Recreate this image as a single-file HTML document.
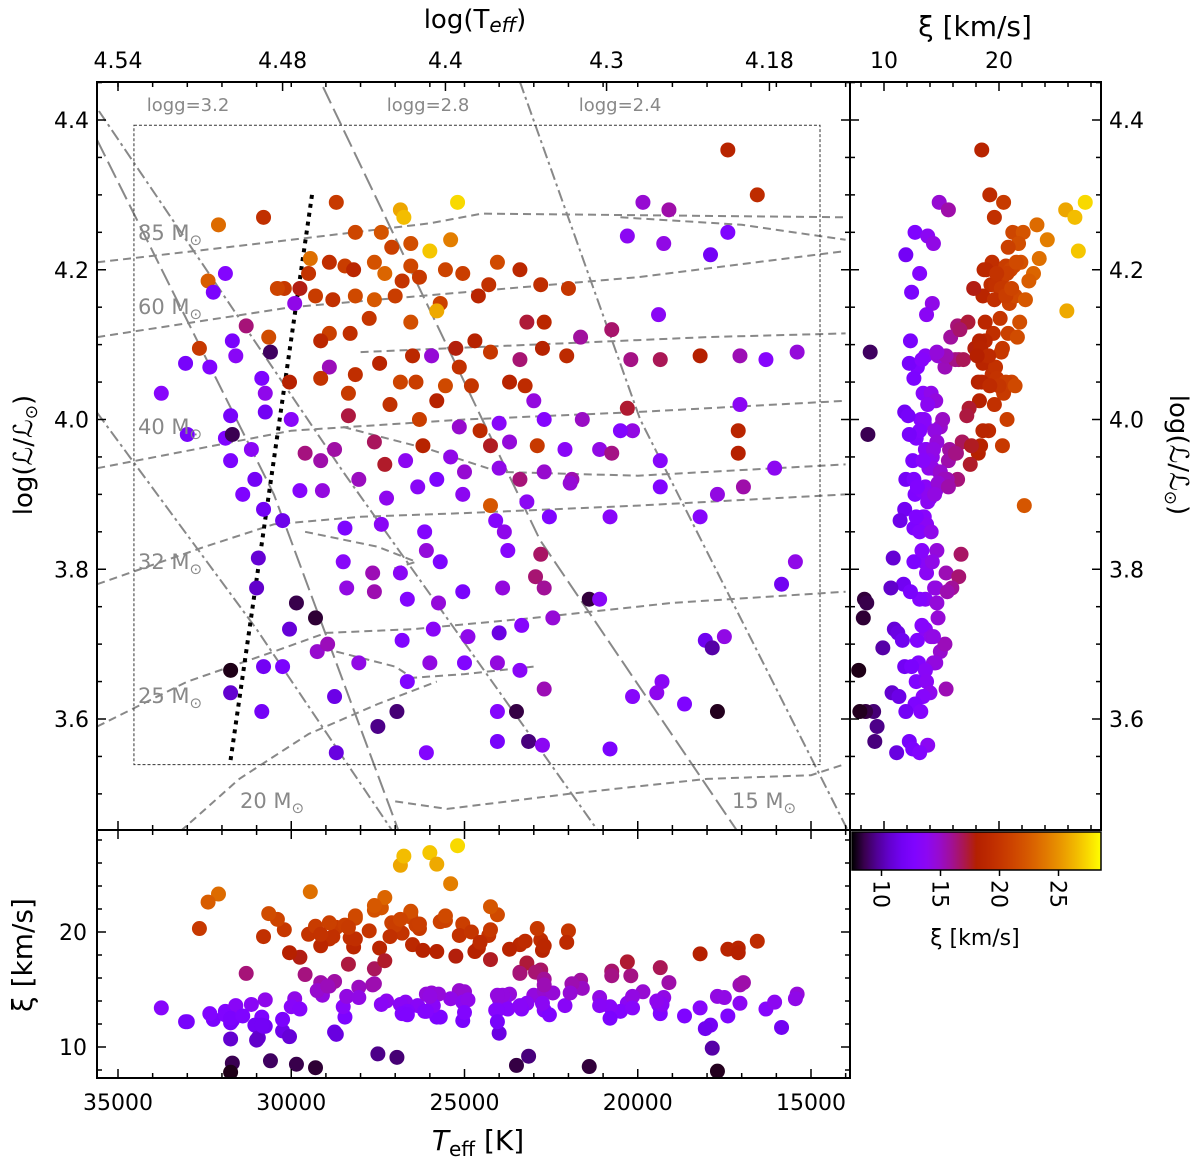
<!DOCTYPE html>
<html><head><meta charset="utf-8"><style>
body{margin:0;background:#fff;}
svg{display:block;font-family:"DejaVu Sans","Liberation Sans",sans-serif;}
</style></head><body>
<svg id="fig" width="1200" height="1161" viewBox="0 0 1200 1161" xmlns="http://www.w3.org/2000/svg">
<g id="main"></g>
<g id="right"></g>
<g id="bottom"></g>
<g id="cbar"></g>
<g id="text"></g>
</svg>
<script>
// ---- data: [Teff K], log L, xi km/s ----
const teff=[17400,16550,19850,25200,26850,26750,28700,32100,30800,19100,17400,20300,19250,17900,28150,27400,26550,27100,25400,26550,26000,28900,28450,28200,27600,27300,26800,26300,25550,25050,24050,23400,22800,22000,24300,24600,25700,25800,29750,30200,29450,29500,29300,28800,28150,27600,27000,26550,27750,28300,28900,29150,29900,30400,32400,32250,31900,32650,30650,30600,31300,31700,31600,32350,33050,33750,30850,30750,30750,30050,28900,28150,27450,26500,25950,25250,24700,24250,25150,23400,22750,22050,23200,22700,21650,20750,20200,19350,18200,17050,16300,15400,19400,29150,28350,26850,26400,25550,24800,23700,23250,27150,25800,26300,24550,25150,24000,23000,22700,21600,20300,17050,17100,20150,17100,16050,31750,31900,31700,31750,31150,31050,30000,28350,29600,28750,27600,26200,25400,24250,23700,22900,22100,21100,20500,29150,27300,26700,25000,24000,23400,22700,21900,20750,19350,31400,30800,29750,29100,28050,27250,26350,25800,25050,24250,24100,23200,21950,20800,19350,18200,17700,16950,30250,28450,27400,26150,23850,22550,26100,22800,30950,28500,27650,26850,25700,23750,22950,23900,22700,21400,21100,15450,15850,31000,29850,29300,28400,27600,26650,25750,25050,30050,29250,28950,28050,26800,25900,24900,24000,23350,22450,26000,25000,24050,23400,22700,26650,18050,17850,17500,19300,19450,20150,18650,30800,30250,31750,31750,30850,28750,26950,27500,24050,23500,24050,23150,22750,20800,17700,26100,28700,33000];
const logL=[4.36,4.30,4.29,4.29,4.28,4.27,4.29,4.26,4.27,4.28,4.25,4.245,4.235,4.22,4.25,4.25,4.235,4.23,4.24,4.205,4.225,4.21,4.205,4.20,4.21,4.195,4.185,4.19,4.20,4.195,4.21,4.20,4.18,4.175,4.18,4.165,4.155,4.145,4.175,4.175,4.215,4.195,4.165,4.16,4.165,4.16,4.165,4.13,4.135,4.115,4.115,4.105,4.155,4.175,4.185,4.17,4.195,4.095,4.11,4.09,4.125,4.105,4.085,4.07,4.075,4.035,4.055,4.035,4.01,4.05,4.07,4.06,4.075,4.085,4.085,4.095,4.105,4.09,4.07,4.08,4.095,4.085,4.13,4.13,4.11,4.12,4.08,4.08,4.085,4.085,4.08,4.09,4.14,4.055,4.035,4.05,4.05,4.045,4.045,4.05,4.045,4.02,4.025,4.00,3.985,3.99,3.995,4.025,4.00,4.00,4.015,4.02,3.985,3.985,3.955,3.935,4.005,3.975,3.98,3.945,3.96,3.92,4.00,4.005,3.955,3.96,3.97,3.965,3.95,3.965,3.97,3.965,3.96,3.96,3.985,3.945,3.94,3.945,3.93,3.935,3.92,3.93,3.92,3.955,3.945,3.90,3.88,3.905,3.905,3.92,3.895,3.91,3.92,3.90,3.885,3.865,3.89,3.915,3.87,3.91,3.87,3.90,3.91,3.865,3.855,3.86,3.85,3.85,3.87,3.825,3.82,3.815,3.81,3.795,3.795,3.81,3.825,3.79,3.775,3.775,3.76,3.76,3.81,3.78,3.775,3.755,3.735,3.775,3.77,3.76,3.755,3.77,3.72,3.69,3.70,3.675,3.705,3.72,3.71,3.715,3.725,3.735,3.675,3.675,3.675,3.665,3.64,3.65,3.705,3.695,3.71,3.65,3.635,3.63,3.62,3.67,3.67,3.665,3.635,3.61,3.63,3.61,3.59,3.61,3.61,3.57,3.57,3.565,3.56,3.61,3.555,3.555,3.98];
const xi=[18.5,19.2,14.8,27.5,25.8,26.6,20.4,23.3,19.6,15.6,12.7,13.8,14.3,11.9,21.2,22.1,21.7,20.8,24.2,21.3,26.9,19.4,20.6,18.7,21.9,23.0,19.9,20.3,21.0,20.7,21.5,18.9,19.3,20.1,19.7,18.6,20.9,25.9,17.8,20.2,23.5,19.8,20.5,19.6,21.4,22.3,20.6,21.8,20.1,19.5,20.8,18.8,14.2,21.1,22.6,12.4,13.1,20.3,21.6,8.8,16.4,12.3,13.6,12.9,12.2,13.4,12.6,14.1,11.8,18.2,15.3,19.4,18.6,18.9,14.7,17.9,18.3,20.2,19.7,16.5,18.4,19.1,17.3,18.8,15.8,16.6,16.2,16.9,18.1,15.4,13.3,14.6,13.7,19.8,20.4,21.1,20.6,21.4,20.0,18.5,19.2,19.6,18.3,20.7,19.1,14.9,13.5,14.5,13.2,15.1,17.4,13.8,18.6,14.4,18.2,13.9,12.1,12.8,8.6,12.5,13.7,11.9,13.5,17.2,16.3,15.7,16.8,18.4,14.2,17.6,14.6,20.3,13.6,14.3,13.1,15.6,17.5,13.9,14.8,14.2,16.4,14.9,15.5,16.2,13.4,12.7,11.8,13.3,14.5,15.2,14.0,13.6,12.6,13.9,22.2,13.2,13.8,14.7,13.5,12.9,13.4,14.4,15.6,11.4,12.6,13.7,13.1,14.1,12.8,14.6,16.7,10.8,13.5,15.4,13.7,12.6,13.3,16.5,14.5,15.9,8.3,13.6,14.2,11.7,10.6,8.5,8.2,14.4,15.5,13.1,14.6,12.3,10.9,14.9,15.3,14.3,12.9,13.6,14.1,11.2,13.3,14.7,14.4,13.0,14.5,13.6,15.4,12.8,11.6,9.9,14.3,13.7,14.0,13.4,12.7,11.8,12.4,7.8,10.7,11.9,11.3,9.1,9.4,13.2,8.4,12.2,9.2,13.8,12.5,7.9,13.1,11.1,12.2];
// guide lines (data coordinates)
const tracks=[
 {name:"85",pts:[[35600,4.21],[30000,4.24],[26000,4.262],[24500,4.275],[14000,4.27]]},
 {name:"85b",pts:[[20500,4.27],[17000,4.26],[14000,4.24]]},
 {name:"60",pts:[[35600,4.11],[30000,4.15],[25000,4.17],[20000,4.19],[14000,4.225]]},
 {name:"60b",pts:[[28000,4.09],[23000,4.10],[18000,4.11],[14000,4.115]]},
 {name:"40",pts:[[35600,3.935],[30000,3.985],[25000,4.0],[20000,4.01],[14000,4.025]]},
 {name:"40b",pts:[[28500,3.99],[26000,3.96],[24000,3.93],[20000,3.925],[14000,3.94]]},
 {name:"32",pts:[[35600,3.78],[32500,3.83],[30500,3.86],[28000,3.87],[25000,3.875],[20000,3.885],[14000,3.9]]},
 {name:"32b",pts:[[29600,3.85],[27500,3.83],[26400,3.81],[27100,3.80]]},
 {name:"25",pts:[[35600,3.59],[33000,3.65],[30500,3.69],[29000,3.715],[26500,3.72],[23000,3.735],[19000,3.755],[14000,3.77]]},
 {name:"25b",pts:[[28700,3.69],[27000,3.67],[26500,3.655],[25000,3.66],[23000,3.67]]},
 {name:"20",pts:[[33200,3.45],[31500,3.52],[29500,3.58],[27500,3.62],[25800,3.65]]},
 {name:"15",pts:[[27000,3.49],[25500,3.48],[22000,3.50],[18000,3.52],[15000,3.525],[14000,3.54]]}
];
const loggLines=[
 {style:"dd",pts:[[35550,4.412],[28500,3.93],[21060,3.445]]},
 {style:"dd",pts:[[35600,4.009],[31000,3.72],[27000,3.445]]},
 {style:"dd",pts:[[23400,4.451],[19930,4.0],[13870,3.445]]},
 {style:"ld",pts:[[29080,4.444],[22820,3.839],[17050,3.445]]},
 {style:"ld",pts:[[35600,4.373],[30500,3.9],[26860,3.445]]}
];
const boundary=[[29400,4.30],[31770,3.539]];
const box=[[34540,4.393],[14740,3.539]];
const xTicks=[35000,30000,25000,20000,15000];
const yTicks=[3.6,3.8,4.0,4.2,4.4];
const topTickLabels=["4.54","4.48","4.4","4.3","4.18"];
const topTickTeff=[35000,30250,25550,20900,16200];
const xiTicksRight=[10,20];
const xiTicksBottom=[10,20];
const cbTicks=[10,15,20,25];

const NS="http://www.w3.org/2000/svg";
const X0=97,X1=850,Y0=82,Y1=830,RX1=1101,BY1=1078;
const tx=t=>118+(35000-t)*0.03465;
const ly=l=>120+(4.4-l)*748.75;
const xr=v=>884+(v-10)*11.5;
const yb=v=>1047-(v-10)*11.5;
const VMIN=7.5,VMAX=28.6;
const cbx=v=>852+(v-VMIN)/(VMAX-VMIN)*249;
function cmap(v){let t=Math.max(0,Math.min(1,(v-VMIN)/(VMAX-VMIN)));
 const r=Math.sqrt(t),g=t*t*t,b=Math.max(0,Math.sin(2*Math.PI*t));
 return `rgb(${Math.round(r*255)},${Math.round(g*255)},${Math.round(b*255)})`;}
function el(parent,tag,attrs){const e=document.createElementNS(NS,tag);for(const k in attrs)e.setAttribute(k,attrs[k]);parent.appendChild(e);return e;}
const main=document.getElementById('main'),right=document.getElementById('right'),bottom=document.getElementById('bottom'),cbar=document.getElementById('cbar'),text=document.getElementById('text');

const defs=el(document.getElementById('fig'),'defs',{});
const cp=el(defs,'clipPath',{id:'cm'});el(cp,'rect',{x:X0,y:Y0,width:X1-X0,height:Y1-Y0});
const cpr=el(defs,'clipPath',{id:'cr'});el(cpr,'rect',{x:X1,y:Y0,width:RX1-X1,height:Y1-Y0});
const cpb=el(defs,'clipPath',{id:'cb'});el(cpb,'rect',{x:X0,y:Y1,width:X1-X0,height:BY1-Y1});
const gm=el(main,'g',{'clip-path':'url(#cm)'});

function poly(parent,pts,attrs,name){const d=pts.map((p,i)=>(i?'L':'M')+tx(p[0]).toFixed(1)+','+ly(p[1]).toFixed(1)).join(' ');
 const p=el(parent,'path',Object.assign({d:d,fill:'none'},attrs));
 
 }
loggLines.forEach(L=>poly(gm,L.pts,{stroke:'#888','stroke-width':2,'stroke-dasharray':L.style==='dd'?'12,4,3,4':'18,6'},'logg-line'));
tracks.forEach(T=>poly(gm,T.pts,{stroke:'#888','stroke-width':2,'stroke-dasharray':'8,5'},'mass-track'));
const bx=el(gm,'rect',{x:tx(box[0][0]),y:ly(box[0][1]),width:tx(box[1][0])-tx(box[0][0]),height:ly(box[1][1])-ly(box[0][1]),fill:'none',stroke:'#333','stroke-width':1,'stroke-dasharray':'3,2'});


poly(gm,boundary,{stroke:'#000','stroke-width':4,'stroke-dasharray':'4,5'},'boundary-line');

const N=Math.min(teff.length,logL.length,xi.length);
for(let i=0;i<N;i++){
 const c=cmap(xi[i]);
 const a=el(gm,'circle',{cx:tx(teff[i]),cy:ly(logL[i]),r:7.5,fill:c});
 
 
 const b=el(right,'circle',{cx:xr(xi[i]),cy:ly(logL[i]),r:7.5,fill:c,'clip-path':'url(#cr)'});
 
 
 const d=el(bottom,'circle',{cx:tx(teff[i]),cy:yb(xi[i]),r:7.5,fill:c,'clip-path':'url(#cb)'});
 
 
}
function frame(x,y,w,h,name){const r=el(text,'rect',{x:x,y:y,width:w,height:h,fill:'none',stroke:'#000','stroke-width':2});
 
 }
frame(X0,Y0,X1-X0,Y1-Y0,'hr-frame');frame(X1,Y0,RX1-X1,Y1-Y0,'right-frame');frame(X0,Y1,X1-X0,BY1-Y1,'bottom-frame');
function tick(x1,y1,x2,y2){el(text,'line',{x1:x1,y1:y1,x2:x2,y2:y2,stroke:'#000','stroke-width':1.5});}
function label(x,y,s,size,anchor,extra){const t=el(text,'text',Object.assign({x:x,y:y,'font-size':size,'text-anchor':anchor||'middle',fill:'#000'},extra||{}));t.textContent=s;
 
 return t;}
for(let v=3.45;v<=4.45;v+=0.05){const y=ly(v);if(y<Y0||y>Y1)continue;const maj=Math.abs((v*10)%2)<0.01||Math.abs((v*10)%2-2)<0.01;const L=maj?9:5;
 tick(X0,y,X0+L,y);tick(X1,y,X1-L,y);tick(X1,y,X1+L,y);tick(RX1,y,RX1-L,y);}
yTicks.forEach(v=>{label(X0-8,ly(v)+8,v.toFixed(1),22,'end');label(RX1+8,ly(v)+8,v.toFixed(1),22,'start');});
for(let t=14000;t<=35000;t+=1000){const x=tx(t);if(x<X0||x>X1)continue;const L=t%5000===0?9:5;tick(x,BY1,x,BY1-L);tick(x,Y1,x,Y1+L);tick(x,Y1,x,Y1-L);}
xTicks.forEach(t=>label(tx(t),1110,String(t),22));
for(let t=14000;t<=35000;t+=1000){const x=tx(t);if(x<X0||x>X1)continue;tick(x,Y0,x,Y0+5);}
topTickTeff.forEach((t,i)=>{tick(tx(t),Y0,tx(t),Y0+9);label(tx(t),68,topTickLabels[i],22);});
for(let v=8;v<=28;v+=2){const x=xr(v);const L=v%10===0?9:5;tick(x,Y0,x,Y0+L);tick(x,Y1,x,Y1-L);}
xiTicksRight.forEach(v=>label(xr(v),68,String(v),22));
for(let v=8;v<=28;v+=2){const y=yb(v);const L=v%10===0?9:5;tick(X0,y,X0+L,y);tick(X1,y,X1-L,y);}
xiTicksBottom.forEach(v=>label(X0-10,yb(v)+8,String(v),22,'end'));
const grad=el(defs,'linearGradient',{id:'gcm',x1:0,x2:1,y1:0,y2:0});
for(let k=0;k<=20;k++){el(grad,'stop',{offset:(k/20),'stop-color':cmap(VMIN+k/20*(VMAX-VMIN))});}
const cr=el(cbar,'rect',{x:852,y:832,width:249,height:38,fill:'url(#gcm)',stroke:'#000','stroke-width':1.5});


cbTicks.forEach(v=>{const x=cbx(v);el(cbar,'line',{x1:x,y1:870,x2:x,y2:876,stroke:'#000','stroke-width':1.5});
 label(x-8,880,String(v),22,'start',{transform:`rotate(90 ${x-8} 880)`});});
label(475,28,'',26).innerHTML='log(T<tspan font-style="italic" font-size="20" dy="4">eff</tspan><tspan dy="-4">)</tspan>';
label(975,36,'ξ  [km/s]',28);
label(975,945,'ξ  [km/s]',22);
label(478,1150,'',28).innerHTML='<tspan font-style="italic">T</tspan><tspan font-size="20" dy="6">eff</tspan><tspan dy="-6">  [K]</tspan>';
label(32,455,'',26,'middle',{transform:'rotate(-90 32 455)'}).innerHTML='log(<tspan font-style="italic">ℒ</tspan>/<tspan font-style="italic">ℒ</tspan><tspan font-size="17" dy="5">⊙</tspan><tspan dy="-5">)</tspan>';
label(1170,455,'',26,'middle',{transform:'rotate(90 1170 455)'}).innerHTML='log(<tspan font-style="italic">ℒ</tspan>/<tspan font-style="italic">ℒ</tspan><tspan font-size="17" dy="5">⊙</tspan><tspan dy="-5">)</tspan>';
label(32,955,'ξ  [km/s]',28,'middle',{transform:'rotate(-90 32 955)'});
const grey={fill:'#888'};
[['logg=3.2',188,111,18],['logg=2.8',428,111,18],['logg=2.4',620,111,18]].forEach(a=>label(a[1],a[2],a[0],a[3],'middle',grey));
[['85 M',138,240],['60 M',138,314],['40 M',138,434],['32 M',138,569],['25 M',138,703],['20 M',240,808],['15 M',732,808]].forEach(a=>{
 label(a[1],a[2],'',21,'start',grey).innerHTML=a[0]+'<tspan font-size="15" dy="5">⊙</tspan>';});
</script>
</body></html>
